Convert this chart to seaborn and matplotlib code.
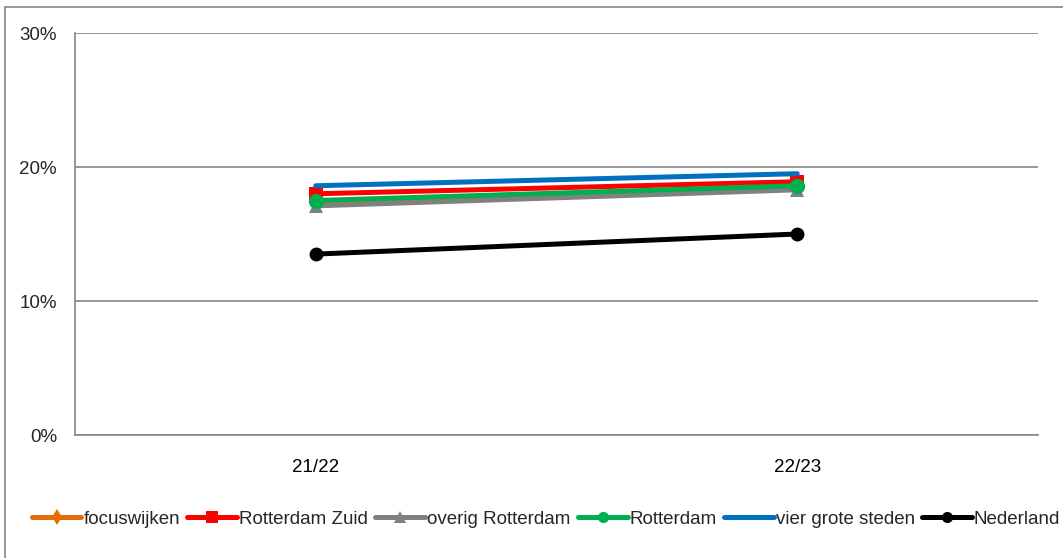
import matplotlib
matplotlib.use("Agg")
import matplotlib.pyplot as plt
import seaborn as sns
import pandas as pd
from matplotlib.lines import Line2D
from matplotlib.ticker import FixedLocator, PercentFormatter

# data
periods = ["21/22", "22/23"]
series = ["focuswijken", "Rotterdam Zuid", "overig Rotterdam",
          "Rotterdam", "vier grote steden", "Nederland"]
focuswijken = [17.3, 18.4]
rotterdam_zuid = [18.0, 18.9]
overig_rotterdam = [17.1, 18.3]
rotterdam = [17.5, 18.6]
vier_grote_steden = [18.6, 19.5]
nederland = [13.5, 15.0]

values = [focuswijken, rotterdam_zuid, overig_rotterdam,
          rotterdam, vier_grote_steden, nederland]
colors = ["#E46C0A", "#FF0000", "#808080", "#00B050", "#0070C0", "#000000"]
markers = ["d", "s", "^", "o", None, "o"]
msizes = [6, 10, 10, 11, 0, 10]
leg_sizes = [8, 8, 8, 8, 0, 8]

sns.set_theme(style="white")
plt.rcParams["font.family"] = ["Liberation Sans", "DejaVu Sans"]

fig = plt.figure(figsize=(10.63, 5.58), dpi=100)
ax = fig.add_axes([75 / 1063, 1 - 435 / 558, (1038 - 75) / 1063, (435 - 33) / 558])

df = pd.DataFrame({
    "periode": periods * len(series),
    "reeks": [s for s in series for _ in periods],
    "waarde": [v for vals in values for v in vals],
})

handles = []
for name, col, mk, ms, ls in zip(series, colors, markers, msizes, leg_sizes):
    sub = df[df["reeks"] == name]
    sns.lineplot(data=sub, x="periode", y="waarde", ax=ax, color=col,
                 linewidth=3.6, marker=mk, markersize=ms,
                 markeredgewidth=0, legend=False, sort=False)
    handles.append(Line2D([], [], color=col, linewidth=3.6, marker=mk,
                          markersize=ls, markeredgewidth=0, label=name))

ax.set_xlim(-0.5, 1.5)
ax.set_ylim(0, 30)
ax.set_yticks([0, 10, 20, 30])
ax.yaxis.set_major_formatter(PercentFormatter(decimals=0))
ax.grid(axis="y", color="#868686", linewidth=1.2)
ax.set_xlabel("")
ax.set_ylabel("")

ax.xaxis.set_minor_locator(FixedLocator([-0.5, 0.5, 1.5]))
ax.tick_params(axis="x", which="major", length=0, labelsize=13.5, pad=17, colors="black")
ax.tick_params(axis="x", which="minor", length=5, width=1.2, color="#868686", direction="out")
ax.tick_params(axis="y", length=5, width=1.2, color="#868686", labelsize=13.5,
               direction="out", pad=8)

for side in ["top", "right"]:
    ax.spines[side].set_visible(False)
for side in ["left", "bottom"]:
    ax.spines[side].set_color("#868686")
    ax.spines[side].set_linewidth(1.2)

fig.legend(handles=handles, loc="center", bbox_to_anchor=(546 / 1063, 1 - 519 / 558),
           ncol=6, frameon=False, fontsize=13.5, handlelength=2.65,
           handletextpad=0.1, columnspacing=0.4, borderpad=0.2)

# outer chart border
fig.add_artist(Line2D([5 / 1063, 5 / 1063], [0, 1 - 7 / 558], color="#868686",
                      linewidth=1.2, transform=fig.transFigure))
fig.add_artist(Line2D([5 / 1063, 1], [1 - 7 / 558, 1 - 7 / 558], color="#868686",
                      linewidth=1.2, transform=fig.transFigure))

fig.savefig("out.png", dpi=100)
